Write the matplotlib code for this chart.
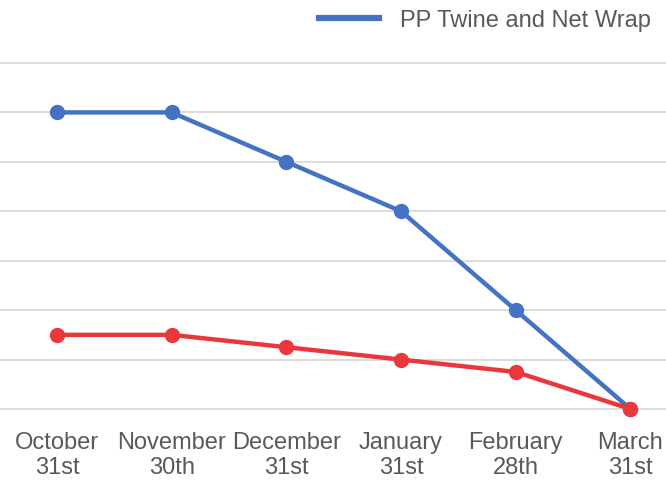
import matplotlib.pyplot as plt
from matplotlib.lines import Line2D

# data
months = ["October\n31st", "November\n30th", "December\n31st",
          "January\n31st", "February\n28th", "March\n31st"]
pp_twine = [6, 6, 5, 4, 2, 0]
other = [1.5, 1.5, 1.25, 1.0, 0.75, 0]

plt.rcParams['font.family'] = ['Liberation Sans', 'DejaVu Sans']

fig = plt.figure(figsize=(6.66, 4.81), dpi=100)
ax = fig.add_axes([0, 71 / 481, 1, 346 / 481])

x = range(len(months))
ax.plot(x, pp_twine, color="#4472C4", lw=3.2, marker="o", ms=10,
        solid_capstyle="round", clip_on=False, zorder=3)
ax.plot(x, other, color="#E8383D", lw=3.2, marker="o", ms=10,
        solid_capstyle="round", clip_on=False, zorder=3)

ax.set_xlim(-0.497, 5.31)
ax.set_ylim(0, 7)
ax.set_yticks(range(8))
ax.yaxis.grid(True, color="#d9d9d9", lw=1.3)
ax.set_axisbelow(True)
for g in ax.get_ygridlines():
    g.set_clip_on(False)
for s in ax.spines.values():
    s.set_visible(False)
ax.tick_params(axis="y", left=False, labelleft=False)
ax.tick_params(axis="x", bottom=False, pad=12, labelsize=17, labelcolor="#595959")
ax.set_xticks(list(x))
ax.set_xticklabels(months, linespacing=1.2)

handle = Line2D([], [], color="#4472C4", lw=4.5)
leg = fig.legend([handle], ["PP Twine and Net Wrap"], loc="center left",
                 bbox_to_anchor=(298 / 666, 1 - 21 / 481), frameon=False,
                 fontsize=17, handlelength=2.55, handletextpad=0.85)
for t in leg.get_texts():
    t.set_color("#595959")

fig.savefig("out.png", dpi=100)
